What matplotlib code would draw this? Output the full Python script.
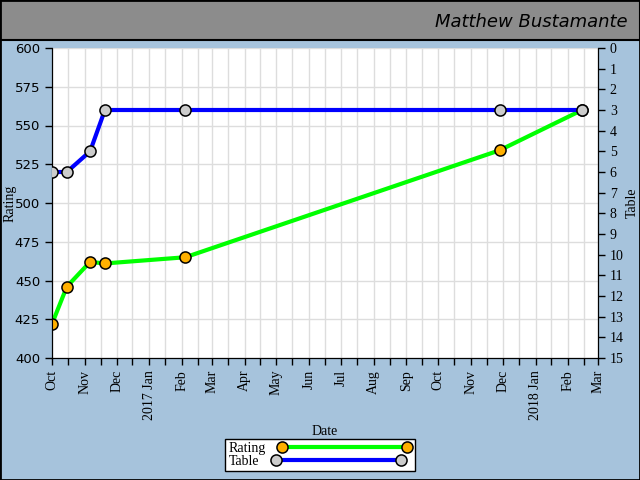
import matplotlib
matplotlib.use("Agg")
import matplotlib.pyplot as plt
import matplotlib.dates as mdates
from matplotlib.patches import Rectangle
from matplotlib.ticker import FuncFormatter, MultipleLocator
import pandas as pd

# data
dates = ["2016-10-01", "2016-10-15", "2016-11-06", "2016-11-20",
         "2017-02-04", "2017-11-28", "2018-02-14"]
rating = [422, 446, 462, 461, 465, 534, 560]
table = [6, 6, 5, 3, 3, 3, 3]

TITLE = "Matthew Bustamante"
BG = "#a6c3dc"
HEADER = "#8c8c8c"
SERIF = "Liberation Serif"


def month_label(x, pos=None):
    d = mdates.num2date(x)
    if d.month == 1:
        return d.strftime("%Y %b")
    return d.strftime("%b")


def main():
    x = pd.to_datetime(dates)

    fig = plt.figure(figsize=(6.4, 4.8), dpi=100, facecolor=BG)

    # header band and outer border
    fig.patches.append(Rectangle((0, 1 - 40 / 480), 1, 40 / 480, transform=fig.transFigure,
                                 facecolor=HEADER, edgecolor="black", lw=1.5, zorder=0))
    fig.patches.append(Rectangle((0, 0), 1, 1, transform=fig.transFigure,
                                 facecolor="none", edgecolor="black", lw=2, zorder=5))
    fig.text(628 / 640, 1 - 22 / 480, TITLE, ha="right", va="center",
             fontsize=13, family="DejaVu Sans", style="italic", color="black")

    ax = fig.add_axes([52 / 640, 1 - 358 / 480, 546 / 640, 310 / 480])
    ax.set_facecolor("white")

    l1, = ax.plot(x, rating, color="#00ff00", lw=3, marker="o", ms=8,
                  mfc="#ffb000", mec="black", mew=1.1, label="Rating", zorder=3)

    ax.set_xlim(pd.Timestamp("2016-10-01"), pd.Timestamp("2018-03-01"))
    ax.set_ylim(400, 600)
    ax.yaxis.set_major_locator(MultipleLocator(25))
    ax.xaxis.set_major_locator(mdates.MonthLocator(bymonthday=1))
    ax.xaxis.set_minor_locator(mdates.MonthLocator(bymonthday=16))
    ax.xaxis.set_major_formatter(FuncFormatter(month_label))

    ax.grid(True, which="both", axis="x", color="#dddddd", lw=1)
    ax.grid(True, which="major", axis="y", color="#dddddd", lw=1)
    ax.set_axisbelow(True)

    ax.tick_params(axis="x", which="both", direction="out", length=5, width=1)
    ax.tick_params(axis="y", direction="out", length=5, width=1, labelsize=9.5)
    for lab in ax.get_xticklabels():
        lab.set_rotation(90)
        lab.set_family(SERIF)
        lab.set_fontsize(10)
        lab.set_va("top")
        lab.set_ha("center")

    ax.spines["top"].set_visible(False)
    ax.set_xlabel("Date", family=SERIF, fontsize=10)
    ax.xaxis.set_label_coords(0.5, (358 - 425) / 310)
    ax.set_ylabel("Rating", family=SERIF, fontsize=10)
    ax.yaxis.set_label_coords((17 - 52) / 546, 0.5)

    ax2 = ax.twinx()
    l2, = ax2.plot(x, table, color="#0000ff", lw=3, marker="o", ms=8,
                   mfc="#cccccc", mec="black", mew=1.1, label="Table", zorder=3)
    ax2.set_ylim(15, 0)
    ax2.set_yticks(range(0, 16))
    ax2.spines["top"].set_visible(False)
    ax2.tick_params(axis="y", direction="out", length=5, width=1, labelsize=10)
    for lab in ax2.get_yticklabels():
        lab.set_family(SERIF)
    ax2.set_ylabel("Table", family=SERIF, fontsize=10)
    ax2.yaxis.set_label_coords((626 - 52) / 546, 0.5)

    leg = fig.legend([l1, l2], ["Rating", "Table"], loc="center",
                     bbox_to_anchor=(0.5, 1 - 455 / 480), numpoints=2,
                     markerfirst=False, handlelength=9.6, labelspacing=0.0,
                     borderpad=0.25, handletextpad=0.9, fancybox=False,
                     framealpha=1, edgecolor="black",
                     prop={"family": SERIF, "size": 10})
    leg.get_frame().set_linewidth(1)
    # labels left-aligned like the original legend
    for col in leg._legend_handle_box.get_children():
        col.align = "left"

    fig.savefig("out.png", dpi=100, facecolor=BG)


if __name__ == "__main__":
    main()
